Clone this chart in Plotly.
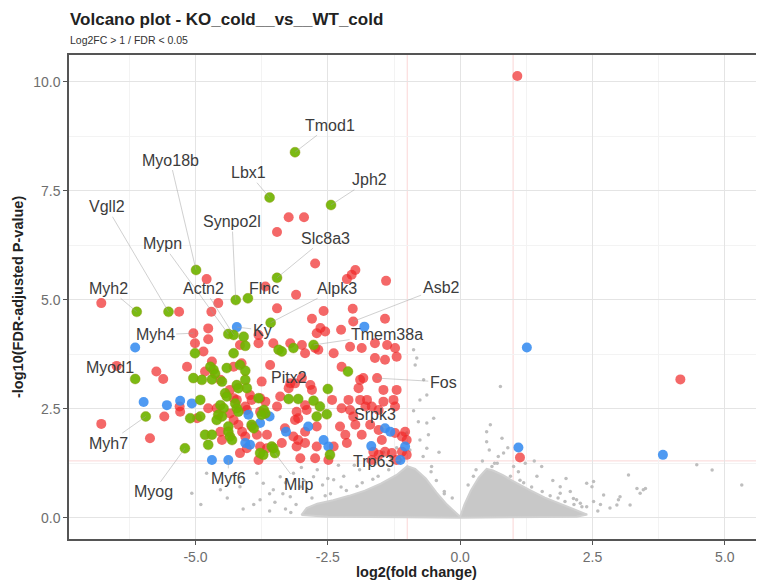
import plotly.graph_objects as go

# ---------------- data ----------------
RED_X = [1.08, -3.24, -2.95, -3.46, -2.74, -1.98, -2.05, -2.14, -1.40, -4.79, -3.68, -3.10, -4.57, -6.78,
         -5.31, -4.70, -2.58, -2.03, -3.46, -2.80, -2.02, -1.42, -2.64, -2.71, -2.25, -2.55, -5.04, -4.76,
         -4.76, -5.01, -4.85, -4.16, -3.81, -3.81, -3.53, -3.21, -2.99, -2.39, -2.08, -2.74, -2.68, -2.93,
         -1.86, -1.61, -1.38, -1.23, -1.20, -1.61, -1.42, -2.24, -1.89, -1.83, -1.92, -1.57, -1.45, -1.20,
         -2.83, -2.80, -3.12, -2.99, -3.21, -3.24, -3.40, -3.78, -3.68, -3.97, -3.94, -3.59, -3.75, -4.13,
         -4.28, -4.69, -4.53, -4.82, -5.16, -4.35, -4.76, -4.06, -4.03, -3.46, -3.09, -3.06, -5.29, -4.35,
         -4.28, -4.19, -4.53, -4.50, -3.94, -4.12, -4.06, -3.84, -3.65, -3.78, -3.65, -3.81, -3.31, -3.15,
         -3.06, -3.09, -3.02, -3.37, -2.93, -3.12, -2.42, -2.24, -2.11, -1.76, -1.79, -1.67, -1.54, -1.45,
         -1.26, -1.23, -2.93, -2.74, -2.49, -2.39, -2.17, -2.14, -1.98, -1.86, -1.70, -1.54, -1.48, -1.23,
         -1.10, -1.04, -1.01, -1.64, -1.54, -1.42, -1.29, -1.10, -1.01, -1.67, -1.20, -6.49, -5.74, -5.61,
         -5.30, -5.59, -6.78, -5.86, -4.97, 1.13, 4.16, -4.28, -4.22, -4.60, -3.78, -2.90, -2.71, -2.93,
         -2.71, -4.16, -4.03, -2.27, -2.08, -2.02, -1.89]
RED_Y = [10.13, 6.89, 6.89, 6.55, 5.83, 5.68, 5.57, 5.47, 5.43, 5.47, 5.30, 5.11, 4.92, 4.92,
         4.72, 4.72, 4.74, 4.79, 4.80, 4.56, 4.50, 4.56, 4.35, 4.23, 4.31, 4.27, 4.23, 4.34,
         4.09, 4.00, 3.81, 3.96, 4.19, 4.00, 4.00, 4.00, 3.96, 3.77, 3.92, 3.89, 3.85, 3.77,
         3.89, 4.00, 3.96, 3.89, 3.69, 3.66, 3.62, 3.46, 3.16, 3.20, 2.97, 3.20, 2.93, 2.93,
         3.04, 2.93, 3.08, 3.20, 3.08, 2.97, 2.78, 2.74, 2.66, 2.81, 2.70, 3.50, 3.12, 3.54,
         3.46, 3.58, 3.16, 3.35, 3.46, 2.93, 2.51, 2.55, 2.47, 2.55, 2.43, 2.28, 2.43, 2.39,
         2.24, 2.13, 1.97, 1.78, 2.09, 1.97, 1.86, 1.90, 1.90, 1.63, 1.59, 1.32, 2.05, 1.86,
         1.78, 1.63, 1.36, 1.71, 2.58, 2.24, 2.70, 2.51, 2.70, 2.70, 2.55, 2.55, 2.47, 2.66,
         2.70, 2.55, 1.97, 1.36, 1.32, 1.63, 1.90, 1.71, 2.13, 1.90, 2.13, 2.01, 1.78, 1.94,
         1.86, 1.97, 1.78, 1.51, 1.44, 1.51, 1.48, 1.51, 1.44, 1.32, 1.32, 3.48, 3.35, 3.18,
         2.55, 2.32, 2.15, 1.82, 2.28, 1.38, 3.17, 2.74, 2.70, 2.51, 2.43, 2.47, 2.09, 1.71,
         1.63, 1.48, 1.59, 2.09, 2.47, 2.32, 2.70]

GREEN_X = [-3.12, -3.60, -2.44, -4.99, -3.46, -4.24, -4.01, -6.11, -5.51, -3.58, -4.38, -4.28, -4.09,
           -4.06, -2.77, -5.01, -4.28, -3.43, -3.37, -3.15, -6.14, -4.72, -4.66, -4.63, -4.41, -4.16,
           -4.06, -4.06, -4.03, -5.04, -4.88, -4.69, -4.50, -4.22, -4.19, -4.44, -4.41, -3.24, -3.06,
           -3.81, -4.91, -4.53, -4.47, -4.25, -4.22, -4.19, -3.71, -3.68, -3.75, -4.57, -4.50, -4.60,
           -5.10, -4.91, -4.38, -4.38, -4.35, -4.31, -4.82, -4.69, -4.76, -3.94, -3.90, -3.56, -3.53,
           -3.50, -3.78, -3.72, -5.20, -5.94, -2.12, -2.50, -2.77, -2.65, -2.52, -2.71, -2.46]
GREEN_Y = [8.38, 7.34, 7.17, 5.68, 5.50, 4.99, 5.03, 4.72, 4.72, 4.47, 4.21, 4.19, 4.15,
           3.94, 3.96, 3.77, 3.77, 3.85, 3.81, 3.89, 3.18, 3.46, 3.39, 3.30, 3.43, 3.50,
           3.37, 3.16, 2.97, 3.20, 3.16, 3.17, 3.12, 3.04, 2.97, 2.85, 2.78, 2.72, 2.72,
           2.74, 2.70, 2.58, 2.51, 2.62, 2.51, 2.43, 2.47, 2.39, 2.36, 2.36, 2.32, 2.24,
           2.28, 2.32, 2.09, 1.97, 1.86, 1.78, 1.90, 1.90, 1.67, 2.13, 2.05, 1.63, 1.59,
           1.48, 1.48, 1.44, 1.59, 2.32, 3.35, 2.95, 2.68, 2.55, 2.37, 2.32, 1.44]

BLUE_X = [-4.22, -1.81, -6.14, -5.98, -5.54, -5.29, -5.07, -3.60, -3.78, -4.00, -3.29, -4.06, -3.97,
          -4.69, -4.38, -2.87, -2.58, -2.49, -1.42, -1.32, -1.68, -1.04, -1.13, 1.26, 1.10, 3.83]
BLUE_Y = [4.37, 4.38, 3.90, 2.65, 2.58, 2.68, 2.62, 2.32, 2.17, 2.36, 1.97, 1.71, 1.67,
          1.32, 1.32, 2.09, 1.78, 1.63, 2.05, 1.97, 1.64, 1.63, 1.32, 3.90, 1.61, 1.44]

# outline of the dense cloud of non-significant genes
DENSE_X = [-3.0, -2.9, -2.7, -2.4, -2.1, -1.8, -1.5, -1.2, -1.0, -0.85, -0.65, -0.45, -0.25, -0.1, 0.0,
           0.08, 0.2, 0.35, 0.5, 0.62, 0.8, 1.0, 1.3, 1.6, 1.9, 2.2, 2.4, 2.2, 1.0, 0.0, -1.0, -2.5, -3.0]
DENSE_Y = [0.06, 0.22, 0.32, 0.4, 0.5, 0.62, 0.78, 0.98, 1.18, 1.12, 0.9, 0.58, 0.3, 0.12, 0.02,
           0.3, 0.62, 0.92, 1.12, 1.08, 0.98, 0.84, 0.64, 0.46, 0.32, 0.18, 0.07, 0.02, 0.01, 0.0, 0.01, 0.02, 0.06]

GREY_X = [-5.07, -4.79, -4.28, -4.16, -3.84, -3.72, -3.53, -3.40, -3.21, -3.02, -3.78, -3.15, -4.53, -2.77,
          -2.39, -0.88, -0.82, -0.76, -0.69, -0.63, -1.01, -0.85, -0.63, -0.88, -0.79, -0.50, -0.76, -0.63,
          -0.54, 0.76, 0.57, 0.50, 0.79, 0.50, 0.72, 0.82, 0.60, 1.01, 1.23, 1.54, 1.13, 1.89, 2.08, 2.39,
          2.52, 2.71, 2.83, 3.02, 3.18, 3.40, 3.50, 4.47, 4.76, 5.32, 2.96, 2.52, 2.20, 2.49, 2.99, 3.21,
          3.34, 3.46, 2.14, 2.27, 2.39, 1.89, 1.98, -3.3, -3.5, -3.6, -3.9, -4.1, -2.9, -2.6, -2.2, -1.9,
          -1.6, -1.3, -2.5, -2.0, -1.75, -3.35, -4.4, -4.9, -3.0, -2.7, -2.3, -0.95, -0.7, -0.45, -0.3,
          0.3, 0.42, 0.7, 0.95, 1.35, 1.7, 2.3, 2.6, 2.65, 0.15, -0.15, 1.1, 1.45, 1.75, 2.0, -1.2, -1.45,
          -0.6, -0.4, 0.55, 0.9, 1.4, -3.3, -2.95, -3.6, -2.45, -2.15, -1.85, -1.55, -2.8, -2.55, -2.25,
          -1.95, -1.65, -1.35, -1.1, 1.2, 1.55, 1.85, 2.15, 0.25, 0.65, -0.3, -0.55, -3.1, -3.2]
GREY_Y = [0.56, 1.02, 0.98, 0.71, 1.02, 0.79, 0.64, 0.94, 0.48, 0.71, 0.41, 1.02, 0.64, 0.94,
          0.87, 3.85, 3.66, 2.70, 3.16, 2.17, 1.94, 3.50, 2.81, 2.45, 2.20, 2.28, 1.78, 1.59,
          1.17, 3.01, 2.13, 1.97, 1.82, 1.74, 1.40, 1.48, 1.17, 1.17, 1.25, 1.17, 0.86, 0.71, 0.60, 0.79,
          0.83, 0.52, 0.22, 0.48, 0.98, 0.56, 0.67, 1.21, 1.09, 0.75, 0.29, 0.37, 0.41, 0.71, 0.41, 0.29,
          0.67, 0.64, 0.44, 0.33, 0.25, 0.56, 0.37, 0.2, 0.35, 0.15, 0.3, 0.2, 0.6, 0.75, 0.95, 1.1,
          1.25, 1.35, 0.9, 1.2, 1.3, 0.55, 0.45, 0.3, 1.15, 1.1, 1.2, 1.55, 1.4, 0.85, 0.55,
          1.1, 1.3, 1.25, 0.95, 0.7, 0.5, 0.25, 0.15, 0.3, 0.75, 0.45, 1.05, 0.95, 0.85, 0.9, 1.6, 1.5,
          1.9, 1.5, 1.55, 1.6, 1.3, 0.8, 0.85, 0.55, 0.55, 0.62, 0.8, 0.95, 0.45, 0.5, 0.7,
          0.72, 0.88, 1.1, 1.32, 0.8, 0.6, 0.45, 0.3, 0.95, 1.25, 0.6, 1.05, 0.3, 0.12]

LABELS = ['Tmod1', 'Myo18b', 'Lbx1', 'Jph2', 'Vgll2', 'Synpo2l', 'Slc8a3', 'Mypn', 'Myh2', 'Actn2',
          'Flnc', 'Alpk3', 'Asb2', 'Ky', 'Myh4', 'Tmem38a', 'Myod1', 'Pitx2', 'Fos', 'Myh7', 'Srpk3',
          'Myog', 'Myf6', 'Mlip', 'Trp63']
LABEL_X = [-2.46, -5.48, -4.0, -1.71, -6.68, -4.31, -2.55, -5.62, -6.64, -4.84, -3.70, -2.33, -0.36,
           -3.74, -5.76, -1.38, -6.61, -3.23, -0.32, -6.65, -1.61, -5.80, -4.38, -3.06, -1.64]
LABEL_Y = [9.0, 8.2, 7.91, 7.75, 7.13, 6.79, 6.41, 6.28, 5.26, 5.26, 5.26, 5.26, 5.28,
           4.30, 4.19, 4.21, 3.45, 3.22, 3.11, 1.71, 2.36, 0.59, 0.90, 0.77, 1.28]
GENE_X = [-3.12, -4.99, -3.60, -2.44, -5.51, -4.24, -3.46, -4.38, -6.11, -4.28, -4.01, -3.58, -2.02,
          -4.22, -5.04, -2.77, -6.49, -3.24, -1.57, -5.94, -1.42, -5.20, -4.38, -3.50, -1.13]
GENE_Y = [8.38, 5.68, 7.34, 7.17, 4.72, 4.99, 5.50, 4.21, 4.72, 4.19, 5.03, 4.47, 4.50,
          4.37, 4.23, 3.96, 3.48, 2.97, 3.20, 2.32, 2.05, 1.59, 1.32, 1.48, 1.32]

X_TICKS = [-5.0, -2.5, 0.0, 2.5, 5.0]
X_TICK_TEXT = ['-5.0', '-2.5', '0.0', '2.5', '5.0']
Y_TICKS = [0.0, 2.5, 5.0, 7.5, 10.0]
Y_TICK_TEXT = ['0.0', '2.5', '5.0', '7.5', '10.0']
FC_CUT = 1.0
FDR_CUT = 1.30103

FONT = 'Liberation Sans, Arial'

# ---------------- figure ----------------
fig = go.Figure()

fig.add_trace(go.Scatter(x=DENSE_X, y=DENSE_Y, mode='lines', fill='toself',
                         fillcolor='rgb(200,200,200)', line=dict(width=2, color='rgb(208,208,208)'),
                         hoverinfo='skip', showlegend=False))
fig.add_trace(go.Scatter(x=GREY_X, y=GREY_Y, mode='markers',
                         marker=dict(size=3.5, color='rgb(190,190,190)'), showlegend=False))
fig.add_trace(go.Scatter(x=RED_X, y=RED_Y, mode='markers',
                         marker=dict(size=10, color='rgba(240,40,40,0.7)', line=dict(width=0)),
                         showlegend=False))
fig.add_trace(go.Scatter(x=BLUE_X, y=BLUE_Y, mode='markers',
                         marker=dict(size=10, color='rgba(55,140,240,0.88)', line=dict(width=0)),
                         showlegend=False))
fig.add_trace(go.Scatter(x=GREEN_X, y=GREEN_Y, mode='markers',
                         marker=dict(size=10, color='rgba(112,180,0,0.92)',
                                     line=dict(width=0.6, color='rgba(150,150,20,0.7)')),
                         showlegend=False))

thr = 'rgba(240,120,120,0.3)'
for xv in (-FC_CUT, FC_CUT):
    fig.add_shape(type='line', xref='x', yref='paper', x0=xv, x1=xv, y0=0, y1=1,
                  line=dict(color=thr, width=1), layer='below')
fig.add_shape(type='line', xref='paper', yref='y', x0=0, x1=1, y0=FDR_CUT, y1=FDR_CUT,
              line=dict(color=thr, width=1), layer='below')

for name, lx, ly, gx, gy in zip(LABELS, LABEL_X, LABEL_Y, GENE_X, GENE_Y):
    fig.add_annotation(x=gx, y=gy, ax=lx, ay=ly, xref='x', yref='y', axref='x', ayref='y',
                       text=name, showarrow=True, arrowhead=0, arrowwidth=0.7,
                       arrowcolor='rgba(160,160,160,0.7)', standoff=0,
                       font=dict(family=FONT, size=16, color='#3c3c3c'))

# titles (page body has an 8 px margin; figure is sized so panel lands where the reference has it)
fig.add_annotation(xref='paper', yref='paper', x=-0.0015, y=1.074, xanchor='left', yanchor='middle',
                   text='<b>Volcano plot - KO_cold__vs__WT_cold</b>', showarrow=False,
                   font=dict(family=FONT, size=17, color='#222222'))
fig.add_annotation(xref='paper', yref='paper', x=-0.0015, y=1.031, xanchor='left', yanchor='middle',
                   text='Log2FC > 1 / FDR < 0.05', showarrow=False,
                   font=dict(family=FONT, size=10.5, color='#333333'))
fig.add_annotation(xref='paper', yref='paper', x=0.5, y=-0.069, xanchor='center', yanchor='middle',
                   text='<b>log2(fold change)</b>', showarrow=False,
                   font=dict(family=FONT, size=14.5, color='#222222'))
fig.add_annotation(xref='paper', yref='paper', x=-0.0734, y=0.5, xanchor='center', yanchor='middle',
                   text='<b>-log10(FDR-adjusted P-value)</b>', showarrow=False, textangle=-90,
                   font=dict(family=FONT, size=14.5, color='#222222'))

axis_common = dict(showgrid=True, gridcolor='#e4e4e4', gridwidth=1, zeroline=False,
                   showline=True, linecolor='#555555', linewidth=1.5, mirror=True,
                   ticks='outside', ticklen=4, tickcolor='#555555', automargin=False,
                   tickfont=dict(family=FONT, size=14, color='#6e6e6e'))

fig.update_xaxes(range=[-7.39, 5.74], tickvals=X_TICKS, ticktext=X_TICK_TEXT,
                 minor=dict(dtick=1.25, tick0=0, showgrid=True, gridcolor='#f3f3f3', ticklen=0),
                 **axis_common)
fig.update_yaxes(range=[-0.49, 10.61], tickvals=Y_TICKS, ticktext=Y_TICK_TEXT,
                 minor=dict(dtick=1.25, tick0=0, showgrid=True, gridcolor='#f3f3f3', ticklen=0),
                 **axis_common)

fig.update_layout(width=756, height=575, margin=dict(l=61, r=0, t=47, b=44, autoexpand=False),
                  plot_bgcolor='white', paper_bgcolor='white', showlegend=False)

fig.write_html('out.html')
